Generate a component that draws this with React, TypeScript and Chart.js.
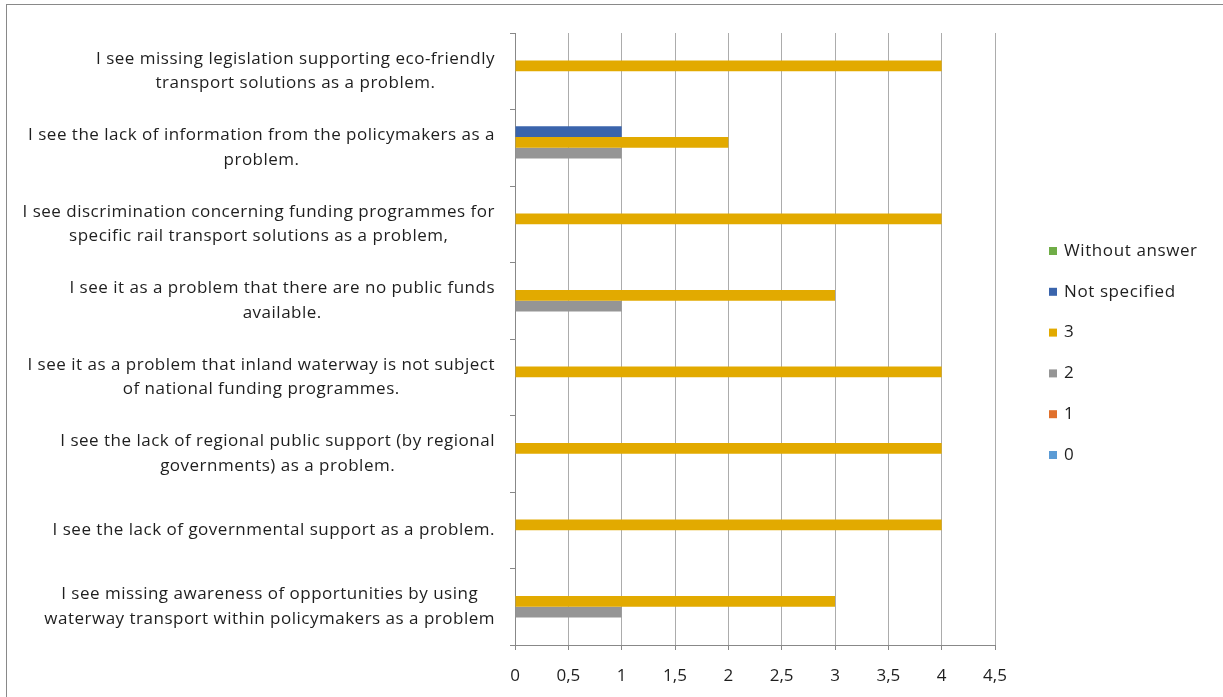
import React, { useEffect, useRef } from "react";
import { Chart, registerables } from "chart.js";

Chart.register(...registerables);

const categories: string[][] = [
  ["I see missing legislation supporting eco-friendly", "transport solutions as a problem."],
  ["I see the lack of information from the policymakers as a", "problem."],
  ["I see discrimination concerning funding programmes for", "specific rail transport solutions as a problem,"],
  ["I see it as a problem that there are no public funds", "available."],
  ["I see it as a problem that inland waterway is not subject", "of national funding programmes."],
  ["I see the lack of regional public support (by regional", "governments) as a problem."],
  ["I see the lack of governmental support as a problem."],
  ["I see missing awareness of opportunities by using", "waterway transport within policymakers as a problem"],
];

const seriesNames = ["Without answer", "Not specified", "3", "2", "1", "0"];
const withoutAnswer: (number | null)[] = [null, null, null, null, null, null, null, null];
const notSpecified: (number | null)[] = [null, 1, null, null, null, null, null, null];
const series3: (number | null)[] = [4, 2, 4, 3, 4, 4, 4, 3];
const series2: (number | null)[] = [null, 1, null, 1, null, null, null, 1];
const series1: (number | null)[] = [null, null, null, null, null, null, null, null];
const series0: (number | null)[] = [null, null, null, null, null, null, null, null];
const seriesColors = ["#70AD47", "#3A64AC", "#E2AA00", "#959595", "#E0702C", "#5B9BD5"];
const xTickLabels = ["0", "0,5", "1", "1,5", "2", "2,5", "3", "3,5", "4", "4,5"];

const FONT = "'Open Sans', 'Liberation Sans', sans-serif";
const TEXT = "#1e1e1e";

export default function App() {
  const ref = useRef<HTMLCanvasElement | null>(null);

  useEffect(() => {
    if (!ref.current) return;
    const allSeries = [withoutAnswer, notSpecified, series3, series2, series1, series0];

    const framePlugin = {
      id: "frame",
      beforeDraw(chart: any) {
        const ctx = chart.ctx;
        ctx.save();
        ctx.fillStyle = "#ffffff";
        ctx.fillRect(0, 0, chart.width, chart.height);
        ctx.strokeStyle = "#898989";
        ctx.lineWidth = 1;
        ctx.strokeRect(6.5, 4.5, chart.width + 20, chart.height + 20);
        ctx.restore();
      },
    };

    const labelsPlugin = {
      id: "catLabels",
      afterDraw(chart: any) {
        const ctx = chart.ctx;
        const yScale = chart.scales.y;
        ctx.save();
        ctx.font = `17px ${FONT}`;
        try { (ctx as any).letterSpacing = "0.5px"; } catch (e) {}
        ctx.fillStyle = TEXT;
        ctx.textAlign = "center";
        ctx.textBaseline = "middle";
        const lh = 24.5;
        categories.forEach((lines, i) => {
          const y = yScale.getPixelForTick(i);
          const w = Math.max(...lines.map((l) => ctx.measureText(l).width));
          const cx = chart.chartArea.left - 20 - w / 2;
          const y0 = y - ((lines.length - 1) * lh) / 2;
          lines.forEach((l, j) => ctx.fillText(l, cx, y0 + j * lh));
        });
        ctx.restore();
      },
    };

    const legendPlugin = {
      id: "sideLegend",
      afterDraw(chart: any) {
        const ctx = chart.ctx;
        const area = chart.chartArea;
        ctx.save();
        ctx.font = `17px ${FONT}`;
        try { (ctx as any).letterSpacing = "0.6px"; } catch (e) {}
        ctx.textBaseline = "middle";
        ctx.textAlign = "left";
        const spacing = 40.8;
        const n = chart.data.datasets.length;
        const cy = 353;
        const startY = cy - ((n - 1) * spacing) / 2;
        const bx = area.right + 54;
        chart.data.datasets.forEach((ds: any, i: number) => {
          const y = startY + i * spacing;
          ctx.fillStyle = ds.backgroundColor;
          ctx.fillRect(bx, y - 4, 8, 8);
          ctx.fillStyle = TEXT;
          ctx.fillText(ds.label, bx + 15, y);
        });
        ctx.restore();
      },
    };

    const chart = new Chart(ref.current, {
      type: "bar",
      data: {
        labels: categories.map((c) => c.join(" ")),
        datasets: seriesNames.map((name, i) => ({
          label: name,
          data: allSeries[i],
          backgroundColor: seriesColors[i],
          borderWidth: 0,
          categoryPercentage: 0.84,
          barPercentage: 1,
        })),
      },
      options: {
        indexAxis: "y",
        animation: false,
        responsive: false,
        maintainAspectRatio: false,
        layout: { padding: { top: 33, left: 0, right: 228, bottom: 0 } },
        plugins: {
          legend: { display: false },
          tooltip: { enabled: false },
        },
        scales: {
          x: {
            min: 0,
            max: 4.5,
            ticks: {
              stepSize: 0.5,
              padding: 16,
              color: TEXT,
              font: { family: FONT, size: 17 },
              callback: (_v: any, idx: number) => xTickLabels[idx],
            },
            grid: {
              color: "#acacac",
              tickColor: "#888888",
              tickLength: 5,
              drawTicks: true,
            },
            border: { display: true, color: "#888888" },
            afterFit: (scale: any) => {
              scale.height = 52;
              scale.paddingLeft = 0;
              scale.paddingRight = 0;
            },
          },
          y: {
            type: "category",
            offset: true,
            ticks: { display: false },
            grid: {
              display: true,
              drawOnChartArea: false,
              drawTicks: true,
              tickLength: 5,
              offset: true,
              tickColor: "#888888",
            },
            border: { display: true, color: "#888888" },
            afterFit: (scale: any) => {
              scale.width = 515;
              scale.paddingTop = 0;
              scale.paddingBottom = 0;
            },
          },
        },
      },
      plugins: [framePlugin, labelsPlugin, legendPlugin],
    } as any);

    return () => chart.destroy();
  }, []);

  return (
    <div style={{ position: "fixed", left: 0, top: 0, width: 1223, height: 697, background: "#fff" }}>
      <canvas ref={ref} width={1223} height={697} style={{ display: "block", width: 1223, height: 697 }} />
    </div>
  );
}
